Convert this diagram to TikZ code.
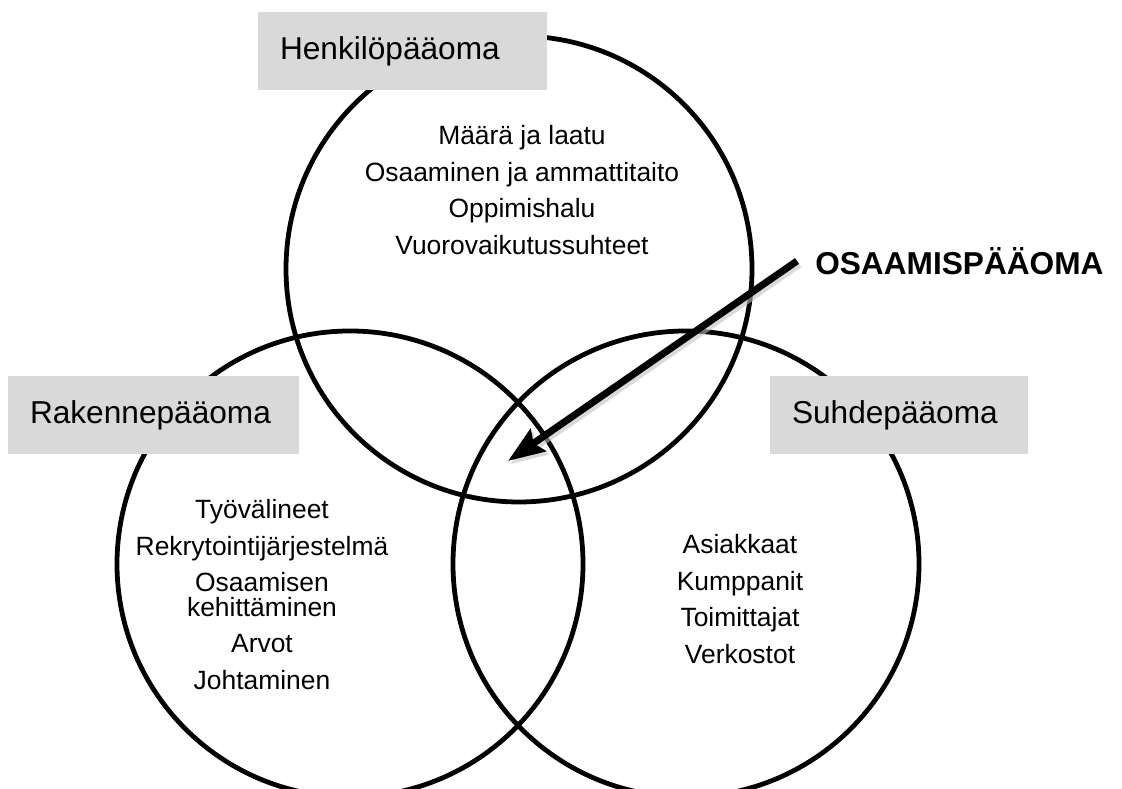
\documentclass[tikz,border=0pt]{standalone}
\usepackage{fontspec}
\setmainfont{Liberation Sans}
\usepackage{tkz-euclide}
\usetikzlibrary{arrows.meta}
\tikzset{>=stealth}
\definecolor{boxgray}{HTML}{D9D9D9}

\begin{document}
\begin{tikzpicture}[venn/.style={line width=3.4pt},
titlebox/.style={fill=boxgray, inner xsep=0.55cm, minimum height=1.95cm,
  align=left, font=\fontsize{22.5}{27}\selectfont},
items/.style={align=center, font=\fontsize{18.8}{26.2}\selectfont},
osalabel/.style={anchor=west, inner xsep=0.45cm, inner ysep=0pt,
  font=\fontsize{22.5}{27}\selectfont\bfseries},
bigarrow/.style={line width=5pt, -{Stealth[length=26pt,width=19pt,inset=4pt]}},
arrowshadow/.style={bigarrow, draw=black!25, opacity=0.6}]
\useasboundingbox (0,0) rectangle (28.05,19.725);
\tkzDefPoints{12.975/13/H, 8.75/5.625/R, 17.15/5.625/S}
\draw[venn] (H) circle[radius=5.825];
\draw[venn] (R) circle[radius=5.825];
\draw[venn] (S) circle[radius=5.825];
% otsikot
\node[titlebox, text width=6.125cm] (henk) at (10.0625,18.45) {Henkilöpääoma};
\node[titlebox, text width=6.175cm] (rak) at (3.8375,9.35) {Rakennepääoma};
\node[titlebox, text width=5.35cm] (suhde) at (22.475,9.35) {Suhdepääoma};
% sisällöt
\node[items] (henklist) at (13.05,14.975) {Määrä ja laatu\\Osaaminen ja ammattitaito\\Oppimishalu\\Vuorovaikutussuhteet};
\node[items] (raklist) at (6.55,4.86) {Työvälineet\\Rekrytointijärjestelmä\\Osaamisen\\[-9pt]kehittäminen\\Arvot\\Johtaminen};
\node[items] (suhdelist) at (18.5,4.75) {Asiakkaat\\Kumppanit\\Toimittajat\\Verkostot};
% osaamispääoma
\node[osalabel] (osa) at (19.925,13.2) {OSAAMISPÄÄOMA};
\coordinate (tip) at (12.7,8.2);
\draw[arrowshadow] ([shift={(0.06,-0.08)}]osa.west) -- ([shift={(0.06,-0.08)}]tip);
\draw[bigarrow] (osa.west) -- (tip);
\end{tikzpicture}
\end{document}
